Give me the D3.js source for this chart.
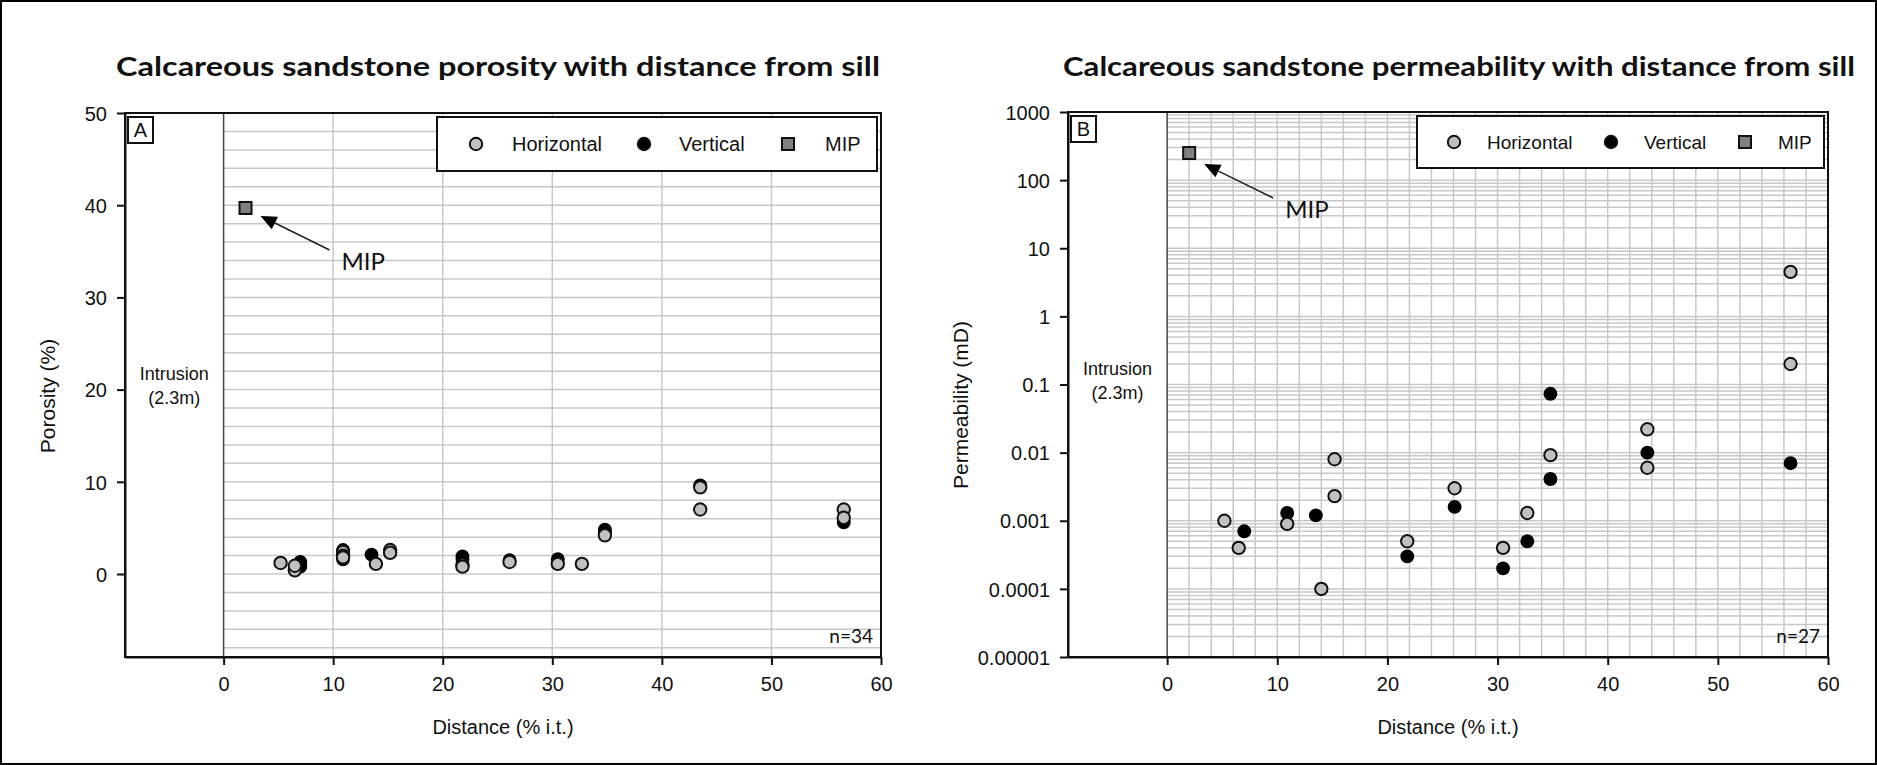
<!DOCTYPE html>
<html>
<head>
<meta charset="utf-8">
<script src="https://cdn.jsdelivr.net/npm/d3@7"></script>
<style>
  body { margin: 0; background: #fff; }
  svg text { font-family: "Liberation Sans", Arial, sans-serif; fill: #111; }
  .cal { font-family: Lato, "Open Sans", sans-serif !important; }
</style>
</head>
<body>
<div id="chart"></div>
<script>
// porosity (%) vs distance (% i.t.)
const porHorizDist = [5.2, 6.5, 6.5, 10.9, 10.9, 10.9, 13.9, 15.2, 15.2, 21.8, 21.8, 26.1, 30.5, 32.7, 34.8, 43.5, 43.5, 56.6, 56.6];
const porHorizVal  = [1.2, 0.4, 0.9, 2.4, 2.0, 1.8, 1.1, 2.6, 2.3, 1.0, 0.8, 1.3, 1.1, 1.1, 4.2, 9.4, 7.0, 7.0, 6.1];
const porVertDist  = [7.0, 7.0, 7.0, 10.9, 10.9, 13.5, 21.8, 21.8, 26.1, 30.5, 34.8, 34.8, 43.5, 56.6];
const porVertVal   = [1.3, 1.0, 0.8, 2.6, 1.6, 2.1, 1.9, 1.6, 1.5, 1.6, 4.8, 4.5, 9.6, 5.6];
const porMip = [2.0, 39.7];

// permeability (mD) vs distance (% i.t.)
const permHorizDist = [5.2, 6.5, 10.9, 14.0, 15.2, 15.2, 21.8, 26.1, 30.5, 32.7, 34.8, 43.6, 43.6, 56.6, 56.6];
const permHorizVal  = [0.001, 0.0004, 0.0009, 0.0001, 0.008, 0.0023, 0.0005, 0.003, 0.0004, 0.0013, 0.0092, 0.022, 0.006, 4.5, 0.2];
const permVertDist  = [7.0, 10.9, 13.5, 21.8, 26.1, 30.5, 32.7, 34.8, 34.8, 43.6, 56.6];
const permVertVal   = [0.0007, 0.0013, 0.0012, 0.0003, 0.0016, 0.0002, 0.0005, 0.073, 0.0041, 0.010, 0.007];
const permMip = [2.0, 250];

const distTicks = [0, 10, 20, 30, 40, 50, 60];
const porTicks = [0, 10, 20, 30, 40, 50];
const permTicks = [0.00001, 0.0001, 0.001, 0.01, 0.1, 1, 10, 100, 1000];
const permTickLabels = ["0.00001", "0.0001", "0.001", "0.01", "0.1", "1", "10", "100", "1000"];
const legendLabels = ["Horizontal", "Vertical", "MIP"];

const W = 1877, H = 765;
const svg = d3.select("#chart").append("svg").attr("width", W).attr("height", H);

svg.append("rect").attr("x", 1).attr("y", 1).attr("width", W - 2).attr("height", H - 2)
  .attr("fill", "#fff").attr("stroke", "#000").attr("stroke-width", 2);

const gridColor = "#c8c8c8";

function panel(opt) {
  const x = opt.x, y = opt.y;
  const [x0, x1] = x.range(), [yb, yt] = y.range();
  const g = svg.append("g");

  // grid (only right of the intrusion)
  g.append("g").selectAll("line").data(opt.hGrid).join("line")
    .attr("x1", x(0)).attr("x2", x1).attr("y1", d => y(d)).attr("y2", d => y(d))
    .attr("stroke", gridColor).attr("stroke-width", 1.5);
  g.append("g").selectAll("line").data(opt.vGrid).join("line")
    .attr("x1", d => x(d)).attr("x2", d => x(d)).attr("y1", yt).attr("y2", yb)
    .attr("stroke", gridColor).attr("stroke-width", 1.5);
  g.append("line").attr("x1", x(0)).attr("x2", x(0)).attr("y1", yt).attr("y2", yb)
    .attr("stroke", "#444").attr("stroke-width", 1.5);

  // frame
  g.append("rect").attr("x", x0).attr("y", yt).attr("width", x1 - x0).attr("height", yb - yt)
    .attr("fill", "none").attr("stroke", "#111").attr("stroke-width", 2);

  // axes
  const ax = g.append("g").attr("transform", `translate(0,${yb})`)
    .call(d3.axisBottom(x).tickValues(distTicks).tickSize(8).tickSizeOuter(0).tickPadding(12));
  const ay = g.append("g").attr("transform", `translate(${x0},0)`)
    .call(d3.axisLeft(y).tickValues(opt.yTicks).tickFormat(opt.yFormat).tickSize(8).tickSizeOuter(0).tickPadding(10));
  [ax, ay].forEach(a => {
    a.select(".domain").attr("stroke", "#111").attr("stroke-width", 2);
    a.selectAll(".tick line").attr("stroke", "#111").attr("stroke-width", 2);
    a.selectAll(".tick text").attr("font-size", 20).attr("font-family", "Liberation Sans, Arial").attr("fill", "#111");
  });
  ay.selectAll(".tick text").attr("dy", "0.36em");

  // titles
  g.append("text").attr("class", "cal").attr("x", opt.titleX).attr("y", 76)
    .attr("text-anchor", "middle").attr("font-size", 26).attr("font-weight", "bold")
    .attr("textLength", opt.titleW).attr("lengthAdjust", "spacingAndGlyphs").text(opt.title);
  g.append("text").attr("x", (x0 + x1) / 2).attr("y", 734).attr("text-anchor", "middle")
    .attr("font-size", 20).text("Distance (% i.t.)");
  g.append("text").attr("transform", `translate(${opt.yLabelX},${opt.yLabelY}) rotate(-90)`)
    .attr("text-anchor", "middle").attr("font-size", 21).text(opt.yLabel);

  // panel letter
  g.append("rect").attr("x", x0 + 3).attr("y", yt + 4).attr("width", 25).attr("height", 26)
    .attr("fill", "#fff").attr("stroke", "#111").attr("stroke-width", 2);
  g.append("text").attr("x", x0 + 15.5).attr("y", yt + 24).attr("text-anchor", "middle")
    .attr("font-size", 20).text(opt.letter);

  // intrusion label
  const ix = (x0 + x(0)) / 2;
  g.append("text").attr("x", ix).attr("y", opt.intrY).attr("text-anchor", "middle").attr("font-size", 18).text("Intrusion");
  g.append("text").attr("x", ix).attr("y", opt.intrY + 24).attr("text-anchor", "middle").attr("font-size", 18).text("(2.3m)");

  // n label
  g.append("text").attr("class", "cal").attr("x", x1 - 8).attr("y", yb - 14).attr("text-anchor", "end")
    .attr("font-size", 19).text(opt.n);

  // points: vertical first, horizontal on top
  g.append("g").selectAll("circle").data(d3.range(opt.vd.length)).join("circle")
    .attr("cx", i => x(opt.vd[i])).attr("cy", i => y(opt.vv[i])).attr("r", 6.2)
    .attr("fill", "#000").attr("stroke", "#000").attr("stroke-width", 1.5);
  g.append("g").selectAll("circle").data(d3.range(opt.hd.length)).join("circle")
    .attr("cx", i => x(opt.hd[i])).attr("cy", i => y(opt.hv[i])).attr("r", 6.2)
    .attr("fill", "#c0c0c0").attr("stroke", "#111").attr("stroke-width", 2);
  const mx = x(opt.mip[0]), my = y(opt.mip[1]);
  g.append("rect").attr("x", mx - 6).attr("y", my - 6).attr("width", 12).attr("height", 12)
    .attr("fill", "#808080").attr("stroke", "#111").attr("stroke-width", 2);

  // MIP arrow
  const tip = [mx + 15, my + opt.tipDy], end = [mx + 84, my + opt.tipDy + 34];
  const ang = Math.atan2(end[1] - tip[1], end[0] - tip[0]);
  const L = 16, Wd = 7;
  const bx = tip[0] + L * Math.cos(ang), by = tip[1] + L * Math.sin(ang);
  g.append("line").attr("x1", bx).attr("y1", by).attr("x2", end[0]).attr("y2", end[1])
    .attr("stroke", "#222").attr("stroke-width", 1.5);
  g.append("path").attr("d", `M${tip[0]},${tip[1]}L${bx - Wd * Math.sin(ang)},${by + Wd * Math.cos(ang)}L${bx + Wd * Math.sin(ang)},${by - Wd * Math.cos(ang)}Z`)
    .attr("fill", "#000");
  g.append("text").attr("class", "cal").attr("x", mx + 96).attr("y", my + opt.tipDy + 54)
    .attr("font-size", 24).text("MIP");

  // legend
  const lg = g.append("g");
  lg.append("rect").attr("x", opt.leg[0]).attr("y", opt.leg[1]).attr("width", opt.leg[2]).attr("height", opt.leg[3])
    .attr("fill", "#fff").attr("stroke", "#111").attr("stroke-width", 2);
  const cy = opt.leg[1] + opt.leg[3] / 2;
  legendLabels.forEach((lab, i) => {
    const sx = opt.legSym[i], tx = opt.legTxt[i];
    if (i === 2) {
      lg.append("rect").attr("x", sx - 6).attr("y", cy - 6).attr("width", 12).attr("height", 12)
        .attr("fill", "#808080").attr("stroke", "#111").attr("stroke-width", 2);
    } else {
      lg.append("circle").attr("cx", sx).attr("cy", cy).attr("r", 6.2)
        .attr("fill", i === 0 ? "#c0c0c0" : "#000").attr("stroke", "#111").attr("stroke-width", 2);
    }
    lg.append("text").attr("x", tx).attr("y", cy + 7).attr("font-size", opt.legFont).text(lab);
  });
}

panel({
  x: d3.scaleLinear([-9, 60], [125, 881]),
  y: d3.scaleLinear([-9, 50], [657, 113]),
  hGrid: d3.range(-8, 50, 2), vGrid: [10, 20, 30, 40, 50],
  yTicks: porTicks, yFormat: d3.format("d"),
  title: "Calcareous sandstone porosity with distance from sill", titleX: 498, titleW: 764,
  yLabel: "Porosity (%)", yLabelX: 55, yLabelY: 396,
  letter: "A", intrY: 380, n: "n=34",
  hd: porHorizDist, hv: porHorizVal, vd: porVertDist, vv: porVertVal, mip: porMip,
  tipDy: 8,
  leg: [437, 117, 440, 54], legSym: [476, 644, 788], legTxt: [512, 679, 825], legFont: 20
});

const permGrid = [];
permTicks.forEach(t => { for (let k = 1; k <= 9; k++) { const v = t * k; if (v < 1000) permGrid.push(v); } });

panel({
  x: d3.scaleLinear([-9, 60], [1068, 1828]),
  y: d3.scaleLog([1e-5, 1e3], [657, 112]),
  hGrid: permGrid, vGrid: d3.range(2, 60, 2),
  yTicks: permTicks, yFormat: (d, i) => permTickLabels[i],
  title: "Calcareous sandstone permeability with distance from sill", titleX: 1459, titleW: 792,
  yLabel: "Permeability (mD)", yLabelX: 968, yLabelY: 405,
  letter: "B", intrY: 375, n: "n=27",
  hd: permHorizDist, hv: permHorizVal, vd: permVertDist, vv: permVertVal, mip: permMip,
  tipDy: 11,
  leg: [1417, 116, 407, 52], legSym: [1454, 1611, 1745], legTxt: [1487, 1644, 1778], legFont: 19
});
</script>
</body>
</html>
